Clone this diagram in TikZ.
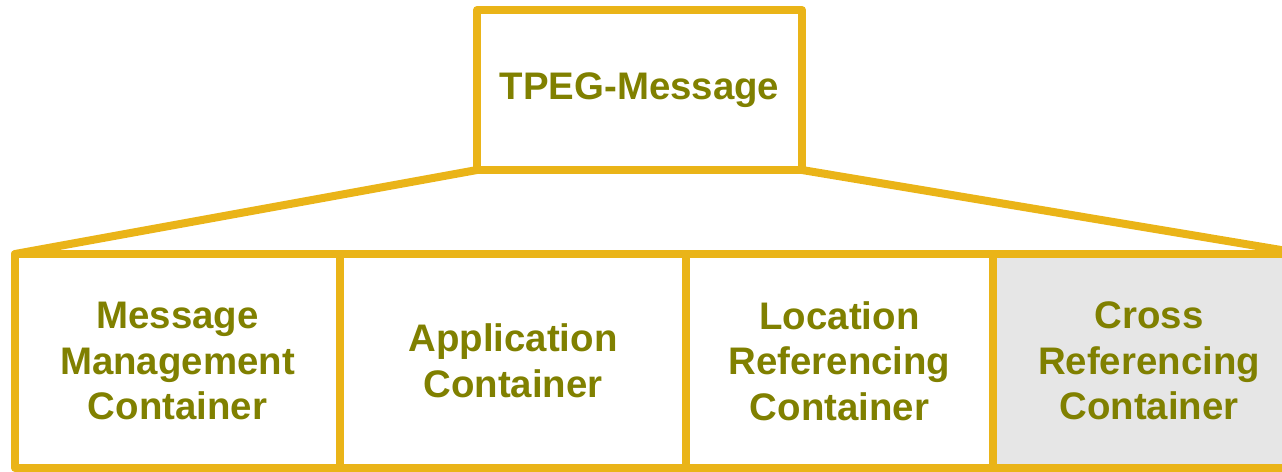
\documentclass[tikz,border=0pt]{standalone}
\usepackage{fontspec}
\setmainfont{Liberation Sans}
\usetikzlibrary{positioning}
\definecolor{mygold}{RGB}{234,180,24}
\definecolor{myolive}{RGB}{128,128,0}
\definecolor{mygray}{RGB}{230,230,230}

\begin{document}
\begin{tikzpicture}[x=0.5pt,y=-0.5pt,
  box/.style={draw=mygold,line width=4pt,line join=round,outer sep=0pt,inner sep=0pt,
    text=myolive,font=\fontsize{19.2}{22.8}\selectfont\bfseries,align=center},
  part/.style={box,minimum height=107pt},
  edge/.style={draw=mygold,line width=4pt,line cap=round},
  node distance=0pt
]
\useasboundingbox (0,0) rectangle (1282,472);
\clip (0,0) rectangle (1282,472);

% the message
\node[box,minimum width=162.5pt,minimum height=80pt] (msg) at (639.5,90) {TPEG-Message};

% the containers
\begin{scope}
  \node[part,minimum width=162.5pt] (mmc) at (177.5,361) {Message\\Management\\Container};
  \node[part,minimum width=173pt,right=of mmc] (app) {Application\\Container};
  \node[part,minimum width=153.5pt,right=of app] (loc) {Location\\Referencing\\Container};
  \node[part,minimum width=156pt,fill=mygray,right=of loc] (xref) {Cross\\Referencing\\Container};
\end{scope}

% the edges
\draw[edge] (msg.south west) -- (mmc.north west);
\draw[edge] (msg.south east) -- (xref.north east);
\end{tikzpicture}
\end{document}
